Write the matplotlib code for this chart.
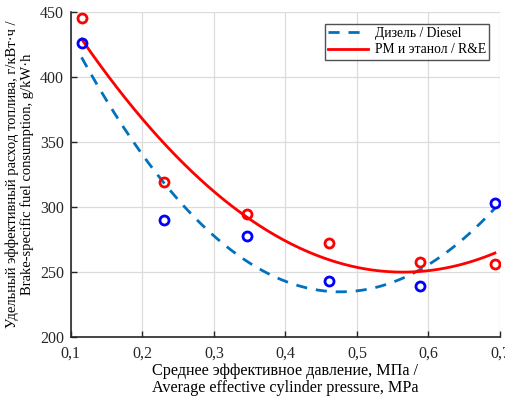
import numpy as np
import matplotlib
matplotlib.use("Agg")
import matplotlib.pyplot as plt
from matplotlib.ticker import FuncFormatter

plt.rcParams['font.family'] = ['Liberation Serif', 'DejaVu Serif']

# Mean effective pressure, MPa
pressure = [0.115, 0.230, 0.346, 0.461, 0.588, 0.693]
# Brake-specific fuel consumption, g/kWh
bsfc_diesel = [426, 290, 277.5, 243, 239, 303]
bsfc_re = [445.5, 319, 295, 272.5, 257.5, 256]

labels = ["Дизель / Diesel", "РМ и этанол / R&E"]
x_ticks = [0.1, 0.2, 0.3, 0.4, 0.5, 0.6, 0.7]
y_ticks = [200, 250, 300, 350, 400, 450]

fig = plt.figure(figsize=(5.06, 3.96), dpi=100)
ax = fig.add_axes([0.140, 0.149, 0.848, 0.820])

xs = np.linspace(min(pressure), max(pressure), 200)
fit_d = np.polyval(np.polyfit(pressure, bsfc_diesel, 2), xs)
fit_r = np.polyval(np.polyfit(pressure, bsfc_re, 2), xs)

ax.plot(xs, fit_d, color='#0072BD', lw=2, ls=(0, (4, 3.2)), label=labels[0])
ax.plot(xs, fit_r, color='#FF0000', lw=2, label=labels[1])
ax.plot(pressure, bsfc_diesel, 'o', mfc='none', mec='#0000FF', mew=2, ms=6.5)
ax.plot(pressure, bsfc_re, 'o', mfc='none', mec='#FF0000', mew=2, ms=6.5)

ax.set_xlim(0.1, 0.7)
ax.set_ylim(200, 450)
ax.set_xticks(x_ticks)
ax.set_yticks(y_ticks)
ax.xaxis.set_major_formatter(FuncFormatter(lambda v, p: f"{v:.1f}".replace('.', ',')))
ax.grid(True, color='#DCDCDC', lw=0.9)
ax.set_axisbelow(True)
ax.tick_params(direction='in', length=4, width=1, labelsize=11.5, colors='#262626',
               top=False, right=False)
ax.tick_params(axis='x', pad=6)
ax.tick_params(axis='y', pad=5)
for s in ['top', 'right']:
    ax.spines[s].set_visible(False)
for s in ['left', 'bottom']:
    ax.spines[s].set_color('#262626')
    ax.spines[s].set_linewidth(1.2)

ax.set_xlabel("Среднее эффективное давление, МПа /\nAverage effective cylinder pressure, MPa",
              fontsize=11.6, linespacing=1.1, labelpad=1)
ax.set_ylabel("Удельный эффективный расход топлива, г/кВт·ч /\nBrake-specific fuel consumption, g/kW·h",
              fontsize=10.5, linespacing=1.1, labelpad=4)

leg = ax.legend(loc='upper right', bbox_to_anchor=(0.975, 0.965), fontsize=9.8,
                frameon=True, fancybox=False, borderpad=0.25, handlelength=2.9,
                labelspacing=0.25, handletextpad=0.5, borderaxespad=0)
leg.get_frame().set_edgecolor('#262626')
leg.get_frame().set_linewidth(1)

fig.savefig("out.png", dpi=100)
